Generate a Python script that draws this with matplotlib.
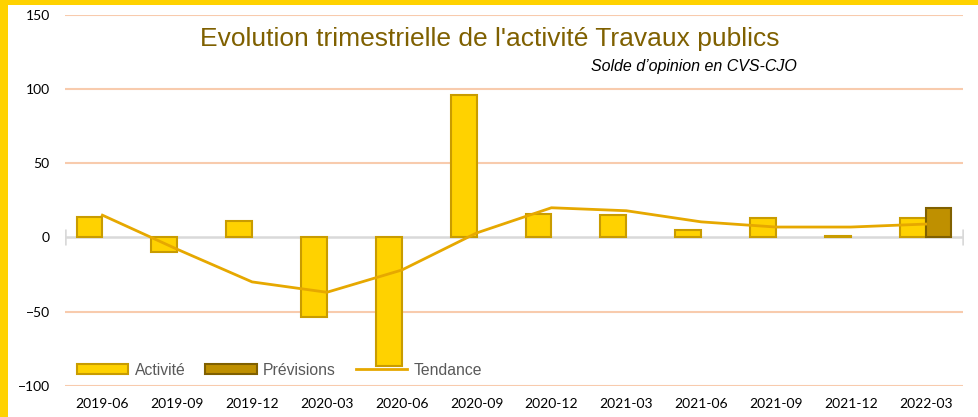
import matplotlib.pyplot as plt
import matplotlib.patches as patches
import numpy as np

quarters = ["2019-06", "2019-09", "2019-12", "2020-03", "2020-06", "2020-09",
            "2020-12", "2021-03", "2021-06", "2021-09", "2021-12", "2022-03"]
activite = [14, -10, 11, -54, -87, 96, 16, 15, 5, 13, 1, 13]
previsions = [np.nan] * 11 + [20]
tendance = [15, -8, -30, -37, -22, 3, 20, 18, 10.5, 7, 7, 9]
yticks = [-100, -50, 0, 50, 100, 150]

fig = plt.figure(figsize=(9.79, 4.17), dpi=100)
ax = fig.add_axes([65 / 979, 1 - 385.7 / 417, 898 / 979, 370.7 / 417])

# yellow frame on the left and top edges
fig.patches.append(patches.Rectangle((0, 0), 8 / 979, 1, transform=fig.transFigure,
                                     facecolor="#FFD200", edgecolor="none"))
fig.patches.append(patches.Rectangle((0, 1 - 5 / 417), 1, 5 / 417, transform=fig.transFigure,
                                     facecolor="#FFD200", edgecolor="none"))

x = np.arange(len(quarters))
w = 0.345
b1 = ax.bar(x - w / 2, activite, w, facecolor="#FFD200", edgecolor="#C99C00",
            linewidth=1.5, label="Activité", zorder=3)
b2 = ax.bar(x + w / 2, previsions, w, facecolor="#BF9000", edgecolor="#806000",
            linewidth=1.5, label="Prévisions", zorder=3)
l1, = ax.plot(x, tendance, color="#E6A800", linewidth=2, label="Tendance", zorder=4)

for y in yticks:
    if y != 0:
        ax.axhline(y, color="#F8CBAD", linewidth=1.5, zorder=1)
ax.plot([-0.5, 11.5], [0, 0], color="#D9D9D9", linewidth=1.8, marker="|",
        markersize=11, markeredgewidth=1.8, zorder=2)

ax.set_xlim(-0.5, 11.5)
ax.set_ylim(-100, 150)
ax.set_yticks(yticks)
ax.set_xticks(x)
ax.set_xticklabels(quarters)
for s in ax.spines.values():
    s.set_visible(False)
ax.tick_params(length=0, labelsize=10, labelcolor="black")
ax.tick_params(axis="y", pad=11)
ax.tick_params(axis="x", pad=9)
for lab in ax.get_xticklabels() + ax.get_yticklabels():
    lab.set_fontfamily("Lato")

fig.text(0.5, 1 - 46 / 417, "Evolution trimestrielle de l'activité Travaux publics",
         ha="center", va="baseline", fontsize=19, color="#7F6000",
         fontfamily="Liberation Sans")
fig.text(797 / 979, 1 - 71 / 417, "Solde d’opinion en CVS-CJO", ha="right",
         va="baseline", fontsize=11.5, style="italic", color="black",
         fontfamily="Liberation Sans")

ax.legend([b1, b2, l1], ["Activité", "Prévisions", "Tendance"],
          loc="center left", bbox_to_anchor=(0.013, 0.042), ncol=3, frameon=False,
          borderpad=0, borderaxespad=0, handlelength=3.3, handleheight=0.6,
          handletextpad=0.4, columnspacing=1.25,
          prop={"family": "Liberation Sans", "size": 11.3}, labelcolor="#595959")

fig.savefig("out.png", dpi=100)
